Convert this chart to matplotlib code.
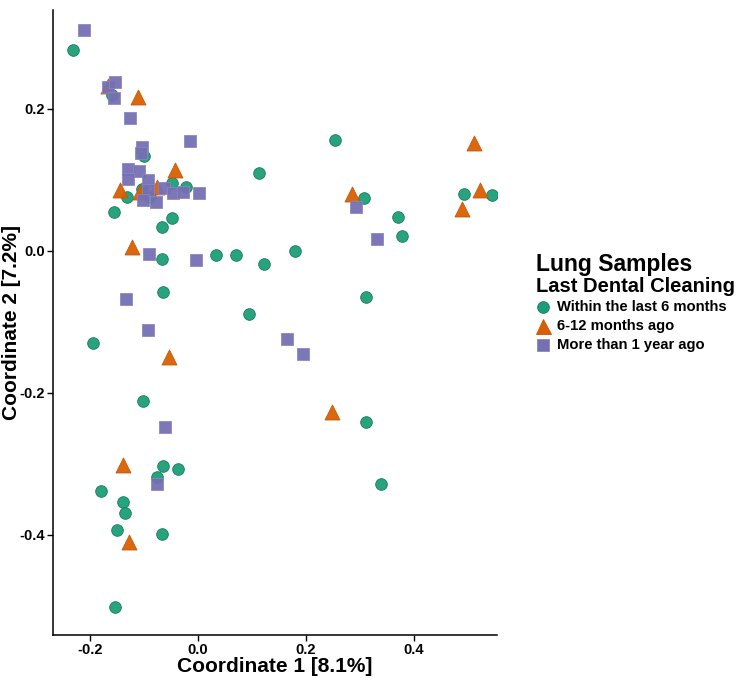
import matplotlib
matplotlib.use("Agg")
import matplotlib.pyplot as plt
from matplotlib.lines import Line2D

plt.rcParams['font.family'] = ['Liberation Sans', 'DejaVu Sans']

# Within the last 6 months
g_x = [-0.231, 0.254, 0.113, -0.159, -0.100, -0.131, -0.156, -0.104, -0.089, -0.048,
       -0.022, -0.048, -0.067, -0.067, 0.033, 0.070, 0.122, 0.180, 0.307, 0.493,
       0.544, 0.370, 0.378, 0.311, 0.094, -0.065, -0.194, -0.102, 0.311, 0.339,
       -0.065, -0.037, -0.076, -0.180, -0.139, -0.135, -0.150, -0.067, -0.154]
g_y = [0.282, 0.156, 0.110, 0.220, 0.134, 0.076, 0.054, 0.087, 0.076, 0.096,
       0.090, 0.046, 0.034, -0.011, -0.006, -0.006, -0.018, -0.001, 0.075, 0.080,
       0.079, 0.048, 0.021, -0.065, -0.089, -0.058, -0.130, -0.211, -0.241, -0.328,
       -0.303, -0.307, -0.318, -0.338, -0.354, -0.369, -0.393, -0.399, -0.501]

# 6-12 months ago
o_x = [-0.111, -0.167, -0.043, -0.144, -0.076, -0.107, -0.122, -0.054, -0.139, -0.128,
       0.248, 0.285, 0.511, 0.522, 0.489]
o_y = [0.217, 0.232, 0.114, 0.085, 0.090, 0.083, 0.006, -0.149, -0.301, -0.410,
       -0.227, 0.080, 0.152, 0.085, 0.059]

# More than 1 year ago
p_x = [-0.211, -0.167, -0.154, -0.156, -0.126, -0.015, -0.104, -0.106, -0.130, -0.109,
       -0.130, -0.093, -0.093, -0.102, -0.078, -0.063, -0.046, -0.028, 0.002, -0.091,
       -0.004, -0.133, -0.093, -0.061, -0.076, 0.165, 0.194, 0.293, 0.331]
p_y = [0.311, 0.231, 0.237, 0.215, 0.187, 0.154, 0.146, 0.138, 0.115, 0.113,
       0.101, 0.099, 0.085, 0.072, 0.068, 0.089, 0.082, 0.083, 0.082, -0.004,
       -0.013, -0.068, -0.111, -0.248, -0.328, -0.124, -0.146, 0.062, 0.017]

labels = ["Within the last 6 months", "6-12 months ago", "More than 1 year ago"]
colors = ["#1B9E77", "#D95F02", "#7570B3"]
edges = ["#137a5b", "#c4560a", "#8a86c2"]
markers = ['o', '^', 's']
msizes = [8.4, 10.8, 8.1]

W, H = 744, 678
fig = plt.figure(figsize=(W/100, H/100), dpi=100)
ax = fig.add_axes([53/W, 43/H, (497-53)/W, (635-10)/H])

for xs, ys, m, ms, c, e in zip([g_x, o_x, p_x], [g_y, o_y, p_y], markers, msizes, colors, edges):
    ax.scatter(xs, ys, s=ms**2, marker=m, c=c, edgecolors=e, linewidths=0.6, alpha=0.95, zorder=3)

ax.set_xlim(-0.2685, 0.554)
ax.set_ylim(-0.541, 0.339)
ax.set_xticks([-0.2, 0.0, 0.2, 0.4])
ax.set_xticklabels(["-0.2", "0.0", "0.2", "0.4"])
ax.set_yticks([-0.4, -0.2, 0.0, 0.2])
ax.set_yticklabels(["-0.4", "-0.2", "0.0", "0.2"])
for sp in ['top', 'right']:
    ax.spines[sp].set_visible(False)
for sp in ['left', 'bottom']:
    ax.spines[sp].set_linewidth(1.1)
ax.tick_params(axis='both', length=4, width=1.0, color='black', labelsize=10.5, pad=1.5)
for t in ax.get_xticklabels() + ax.get_yticklabels():
    t.set_fontweight('bold')
ax.set_xlabel("Coordinate 1 [8.1%]", fontsize=15, fontweight='bold', labelpad=0)
ax.set_ylabel("Coordinate 2 [7.2%]", fontsize=15, fontweight='bold')
ax.yaxis.set_label_coords(-0.072, 0.5)

# legend drawn at figure level
def fx(px):
    return px / W

def fy(py):
    return 1 - py / H

fig.text(fx(536), fy(265), "Lung Samples", fontsize=16.5, fontweight='bold', va='center', ha='left')
fig.text(fx(536), fy(287), "Last Dental Cleaning", fontsize=14.5, fontweight='bold', va='center', ha='left')
for i, (lab, m, ms, c, e) in enumerate(zip(labels, markers, msizes, colors, edges)):
    yy = 307 + i * 19
    fig.add_artist(Line2D([fx(543)], [fy(yy)], transform=fig.transFigure, marker=m, linestyle='',
                          markersize=ms, markerfacecolor=c, markeredgecolor=e, markeredgewidth=0.6))
    fig.text(fx(557), fy(yy), lab, fontsize=10.6, fontweight='bold', va='center', ha='left')

fig.savefig("out.png", dpi=100)
